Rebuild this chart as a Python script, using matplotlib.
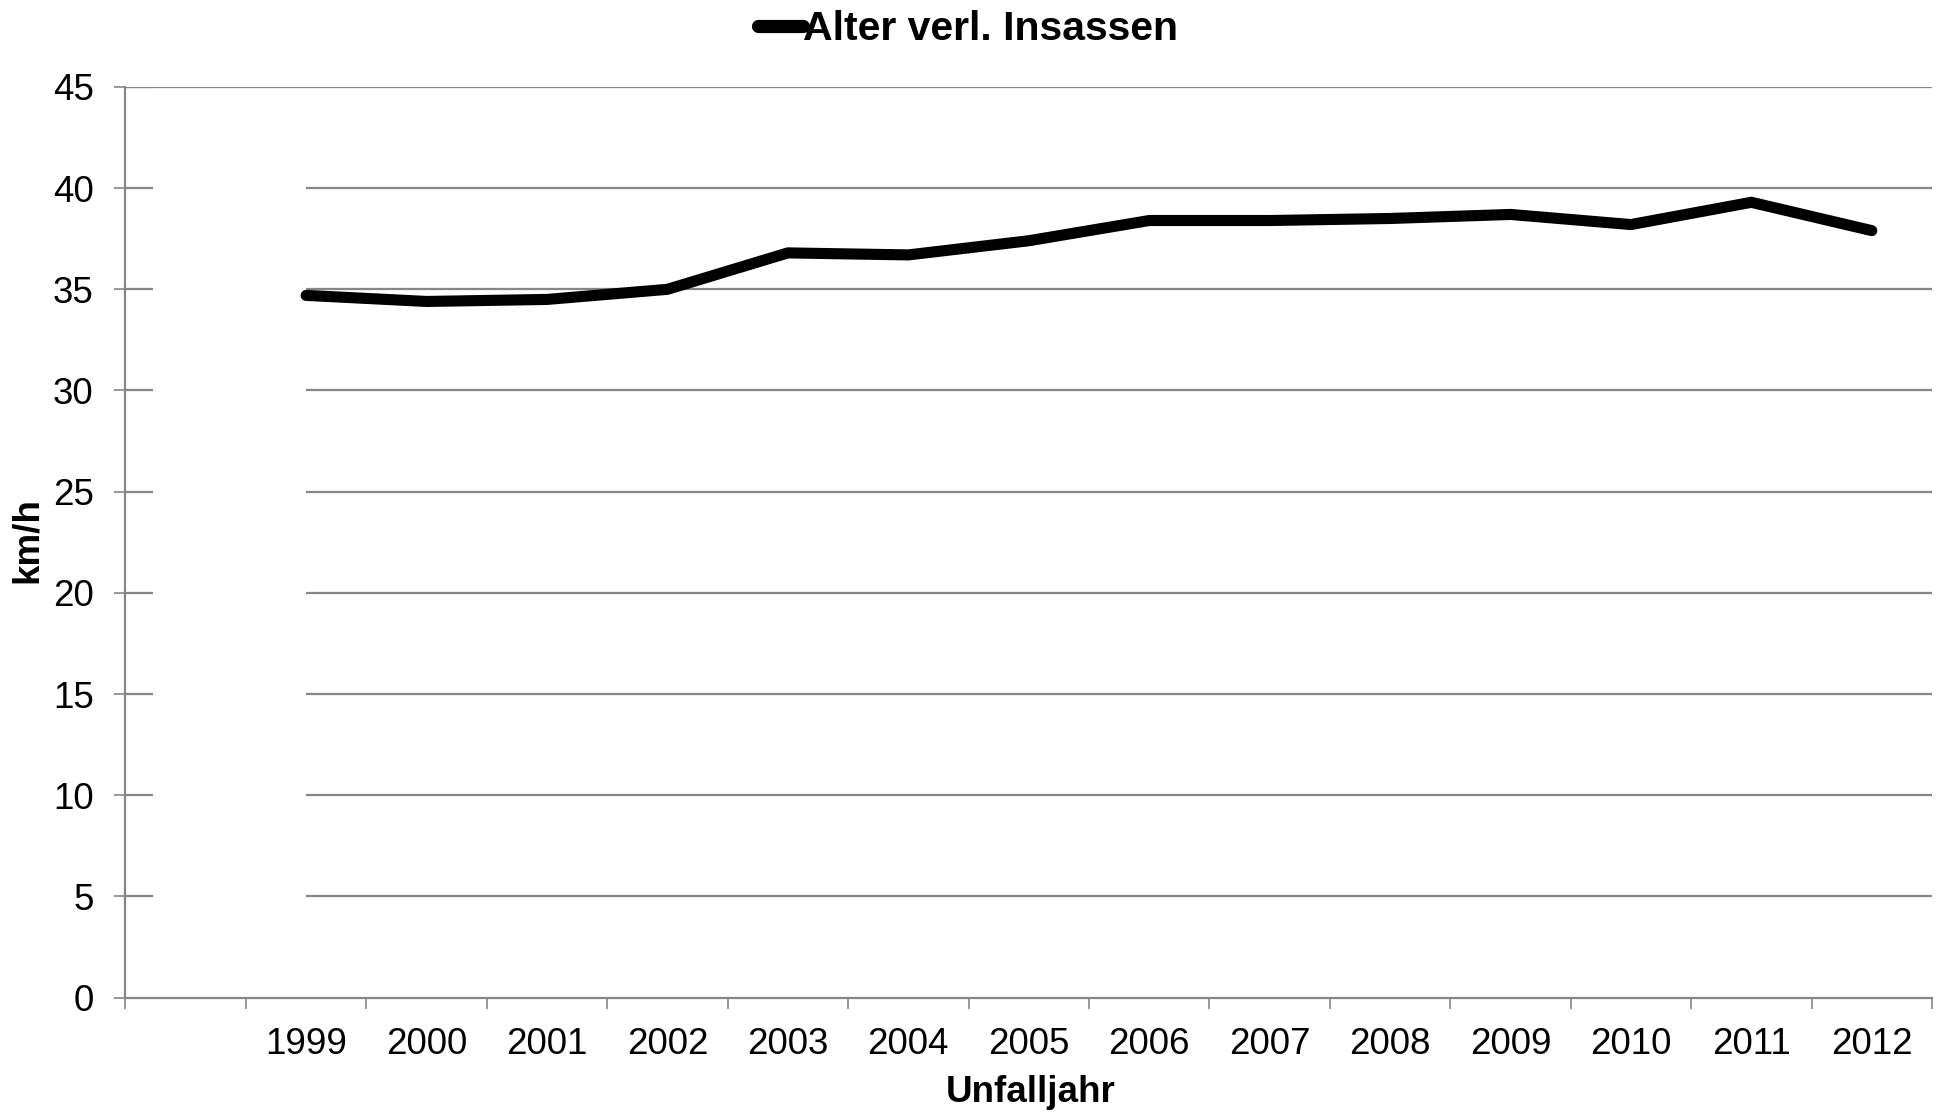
import numpy as np
import matplotlib
matplotlib.use("Agg")
import matplotlib.pyplot as plt

plt.rcParams['font.family'] = ['Liberation Sans', 'DejaVu Sans']

# categories: the first slot stays empty
years = ['', '1999', '2000', '2001', '2002', '2003', '2004', '2005', '2006',
         '2007', '2008', '2009', '2010', '2011', '2012']
alter = [34.7, 34.4, 34.5, 35.0, 36.8, 36.7, 37.4, 38.4, 38.4, 38.5, 38.7,
         38.2, 39.3, 37.9]
yticks = [0, 5, 10, 15, 20, 25, 30, 35, 40, 45]

grey = '#868686'

fig = plt.figure(figsize=(19.48, 11.12), dpi=100)
ax = fig.add_axes([0.0644, 0.1029, 0.9274, 0.8189])

x = np.arange(len(years))
ax.set_xlim(-0.5, len(years) - 0.5)
ax.set_ylim(0, 45)

# gridlines start at the first year, the top one spans the whole plot
ax.hlines(yticks[1:-1], 1, len(years) - 0.5, color=grey, lw=1.6, zorder=1)
ax.hlines(yticks[-1], -0.5, len(years) - 0.5, color=grey, lw=1.6, zorder=1)
# short inner part of the y ticks
ax.hlines(yticks[1:], -0.5, -0.5 + 0.225, color=grey, lw=1.6, zorder=1)

line, = ax.plot(x[1:], alter, color='black', lw=8, solid_joinstyle='miter',
                solid_capstyle='round', zorder=3, label='Alter verl. Insassen')

for s in ['top', 'right']:
    ax.spines[s].set_visible(False)
for s in ['left', 'bottom']:
    ax.spines[s].set_color(grey)
    ax.spines[s].set_linewidth(1.6)

ax.set_yticks(yticks)
ax.tick_params(axis='y', direction='out', length=8, width=1.2, color=grey,
               labelsize=26.5, pad=15)
ax.set_xticks(np.arange(-0.5, len(years), 1.0))
ax.set_xticklabels([])
ax.set_xticks(x, minor=True)
ax.set_xticklabels(years, minor=True)
ax.tick_params(axis='x', which='major', direction='out', length=8, width=1.2, color=grey)
ax.tick_params(axis='x', which='minor', length=0, labelsize=26.5, pad=21)

fig.text(0.0139, 0.5144, 'km/h', rotation=90, ha='center', va='center',
         fontsize=26.5, fontweight='bold')
fig.text(0.529, 0.009, 'Unfalljahr', ha='center', va='baseline',
         fontsize=26.5, fontweight='bold')

leg = fig.legend(handles=[line], loc='upper center', bbox_to_anchor=(0.497, 1.024),
                 frameon=False, handlelength=1.1, handletextpad=0.0,
                 prop={'size': 29.5, 'weight': 'bold'})
leg.get_lines()[0].set_linewidth(9.5)

fig.savefig('out.png', dpi=100)
